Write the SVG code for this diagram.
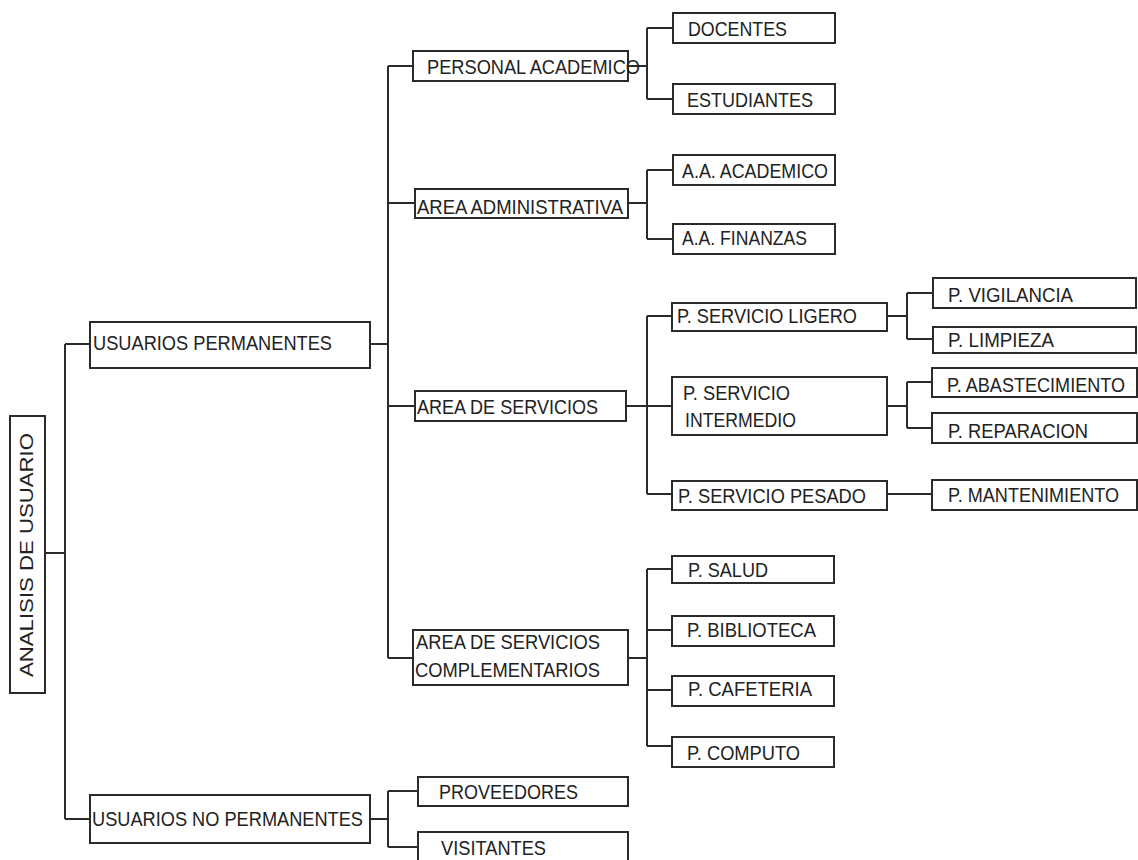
<svg xmlns="http://www.w3.org/2000/svg" width="1138" height="860" viewBox="0 0 1138 860">
  <style>
    .box { fill: #ffffff; stroke: #2b2b2b; stroke-width: 2; }
    .lbl { font-family: "Liberation Sans", Arial, sans-serif; font-size: 21px; fill: #222222; }
    .root { font-family: "Liberation Sans", Arial, sans-serif; font-size: 18px; fill: #222222; }
    .wire { fill: none; stroke: #2b2b2b; stroke-width: 2; }
  </style>
  <rect width="1138" height="860" fill="#ffffff"/>

  <!-- tree connectors -->
  <g id="connectors" class="wire">
    <path d="M45,553 H65 M65,344 V819 M65,344 H90 M65,819 H90"/>
    <path d="M370,344 H388 M388,66 V658 M388,66 H413 M388,203 H415 M388,406 H415 M388,658 H413"/>
    <path d="M628,66 H647 M647,28 V99 M647,28 H673 M647,99 H673"/>
    <path d="M628,203 H647 M647,170 V239 M647,170 H673 M647,239 H673"/>
    <path d="M626,406 H672 M647,316 V494 M647,316 H672 M647,494 H672"/>
    <path d="M887,316 H907 M907,293 V339 M907,293 H933 M907,339 H933"/>
    <path d="M887,406 H907 M907,382 V428 M907,382 H932 M907,428 H932"/>
    <path d="M887,494 H932"/>
    <path d="M628,658 H647 M647,569 V746 M647,569 H672 M647,630 H672 M647,690 H672 M647,746 H672"/>
    <path d="M370,819 H388 M388,791 V847 M388,791 H418 M388,847 H418"/>
  </g>

  <g id="n-analisis">
    <rect class="box" x="10" y="416" width="35" height="277"/>
    <text class="root" transform="translate(33,677) rotate(-90)" textLength="244" lengthAdjust="spacingAndGlyphs">ANALISIS DE  USUARIO</text>
  </g>

  <g id="n-usuarios-permanentes">
    <rect class="box" x="90" y="322" width="280" height="46"/>
    <text class="lbl" x="93" y="350" textLength="239" lengthAdjust="spacingAndGlyphs">USUARIOS PERMANENTES</text>
  </g>
  <g id="n-usuarios-no-permanentes">
    <rect class="box" x="90" y="795" width="280" height="48"/>
    <text class="lbl" x="92" y="826" textLength="271" lengthAdjust="spacingAndGlyphs">USUARIOS NO PERMANENTES</text>
  </g>

  <g id="n-personal-academico">
    <rect class="box" x="413" y="51" width="215" height="30"/>
    <text class="lbl" x="427" y="74" textLength="213" lengthAdjust="spacingAndGlyphs">PERSONAL ACADEMICO</text>
  </g>
  <g id="n-area-administrativa">
    <rect class="box" x="415" y="189" width="213" height="29"/>
    <text class="lbl" x="417" y="214" textLength="206" lengthAdjust="spacingAndGlyphs">AREA ADMINISTRATIVA</text>
  </g>
  <g id="n-area-servicios">
    <rect class="box" x="415" y="391" width="211" height="30"/>
    <text class="lbl" x="417" y="414" textLength="181" lengthAdjust="spacingAndGlyphs">AREA DE  SERVICIOS</text>
  </g>
  <g id="n-area-complementarios">
    <rect class="box" x="413" y="630" width="215" height="55"/>
    <text class="lbl" x="416" y="649" textLength="184" lengthAdjust="spacingAndGlyphs">AREA DE SERVICIOS</text>
    <text class="lbl" x="415" y="677" textLength="185" lengthAdjust="spacingAndGlyphs">COMPLEMENTARIOS</text>
  </g>

  <g id="n-docentes">
    <rect class="box" x="673" y="13" width="162" height="30"/>
    <text class="lbl" x="688" y="36" textLength="99" lengthAdjust="spacingAndGlyphs">DOCENTES</text>
  </g>
  <g id="n-estudiantes">
    <rect class="box" x="673" y="84" width="162" height="30"/>
    <text class="lbl" x="687" y="107" textLength="126" lengthAdjust="spacingAndGlyphs">ESTUDIANTES</text>
  </g>
  <g id="n-aa-academico">
    <rect class="box" x="673" y="155" width="162" height="30"/>
    <text class="lbl" x="682" y="178" textLength="146" lengthAdjust="spacingAndGlyphs">A.A. ACADEMICO</text>
  </g>
  <g id="n-aa-finanzas">
    <rect class="box" x="673" y="224" width="162" height="30"/>
    <text class="lbl" x="682" y="245" textLength="125" lengthAdjust="spacingAndGlyphs">A.A. FINANZAS</text>
  </g>

  <g id="n-servicio-ligero">
    <rect class="box" x="672" y="303" width="215" height="28"/>
    <text class="lbl" x="677" y="323" textLength="180" lengthAdjust="spacingAndGlyphs">P. SERVICIO LIGERO</text>
  </g>
  <g id="n-servicio-intermedio">
    <rect class="box" x="672" y="377" width="215" height="58"/>
    <text class="lbl" x="683" y="400" textLength="107" lengthAdjust="spacingAndGlyphs">P. SERVICIO</text>
    <text class="lbl" x="685" y="427" textLength="111" lengthAdjust="spacingAndGlyphs">INTERMEDIO</text>
  </g>
  <g id="n-servicio-pesado">
    <rect class="box" x="672" y="481" width="215" height="29"/>
    <text class="lbl" x="678" y="503" textLength="188" lengthAdjust="spacingAndGlyphs">P. SERVICIO PESADO</text>
  </g>

  <g id="n-vigilancia">
    <rect class="box" x="933" y="278" width="203" height="30"/>
    <text class="lbl" x="948" y="302" textLength="125" lengthAdjust="spacingAndGlyphs">P. VIGILANCIA</text>
  </g>
  <g id="n-limpieza">
    <rect class="box" x="933" y="327" width="203" height="26"/>
    <text class="lbl" x="948" y="347" textLength="106" lengthAdjust="spacingAndGlyphs">P. LIMPIEZA</text>
  </g>
  <g id="n-abastecimiento">
    <rect class="box" x="932" y="368" width="205" height="29"/>
    <text class="lbl" x="947" y="392" textLength="178" lengthAdjust="spacingAndGlyphs">P. ABASTECIMIENTO</text>
  </g>
  <g id="n-reparacion">
    <rect class="box" x="932" y="413" width="205" height="30"/>
    <text class="lbl" x="948" y="438" textLength="140" lengthAdjust="spacingAndGlyphs">P. REPARACION</text>
  </g>
  <g id="n-mantenimiento">
    <rect class="box" x="932" y="480" width="205" height="30"/>
    <text class="lbl" x="948" y="502" textLength="171" lengthAdjust="spacingAndGlyphs">P. MANTENIMIENTO</text>
  </g>

  <g id="n-salud">
    <rect class="box" x="672" y="556" width="162" height="27"/>
    <text class="lbl" x="688" y="577" textLength="80" lengthAdjust="spacingAndGlyphs">P. SALUD</text>
  </g>
  <g id="n-biblioteca">
    <rect class="box" x="672" y="616" width="162" height="30"/>
    <text class="lbl" x="687" y="637" textLength="129" lengthAdjust="spacingAndGlyphs">P. BIBLIOTECA</text>
  </g>
  <g id="n-cafeteria">
    <rect class="box" x="672" y="676" width="162" height="30"/>
    <text class="lbl" x="688" y="696" textLength="124" lengthAdjust="spacingAndGlyphs">P. CAFETERIA</text>
  </g>
  <g id="n-computo">
    <rect class="box" x="672" y="737" width="162" height="30"/>
    <text class="lbl" x="687" y="760" textLength="113" lengthAdjust="spacingAndGlyphs">P. COMPUTO</text>
  </g>

  <g id="n-proveedores">
    <rect class="box" x="418" y="777" width="210" height="29"/>
    <text class="lbl" x="439" y="799" textLength="139" lengthAdjust="spacingAndGlyphs">PROVEEDORES</text>
  </g>
  <g id="n-visitantes">
    <rect class="box" x="418" y="832" width="210" height="40"/>
    <text class="lbl" x="441" y="855" textLength="105" lengthAdjust="spacingAndGlyphs">VISITANTES</text>
  </g>
</svg>
